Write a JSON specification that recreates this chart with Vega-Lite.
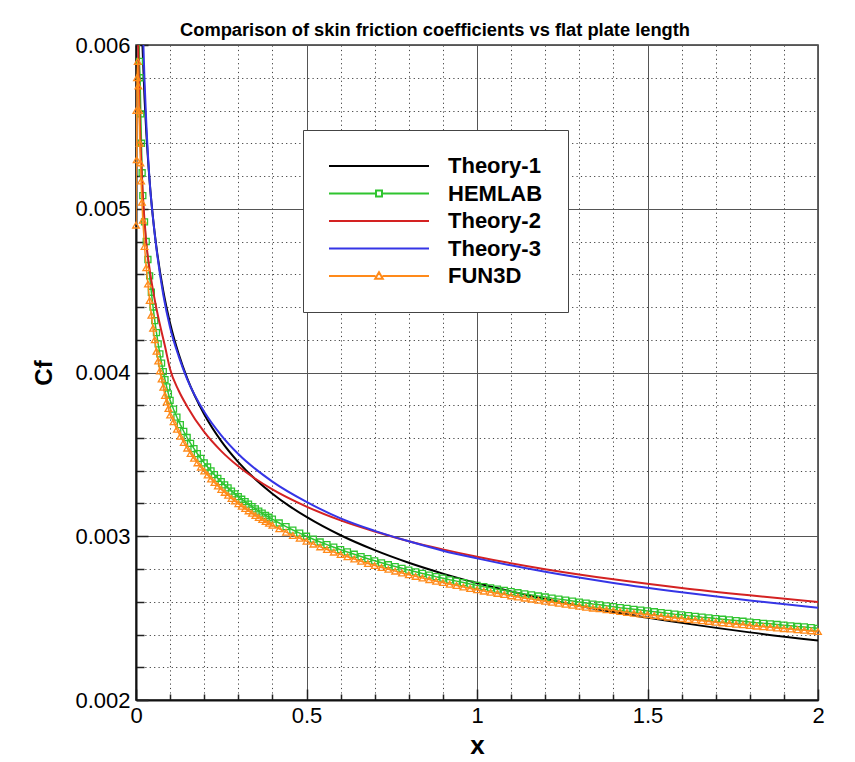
{
  "$schema": "https://vega.github.io/schema/vega-lite/v6.json",
  "autosize": {"type": "none"},
  "width": 682,
  "height": 655,
  "padding": {"left": 136, "top": 45, "right": 37, "bottom": 62},
  "background": "white",
  "config": {"font": "Liberation Sans", "view": {"stroke": "#333333", "strokeWidth": 1.5}},
  "title": {"text": "Comparison of skin friction coefficients vs flat plate length", "anchor": "middle", "dx": -42, "dy": 12, "offset": 6, "fontSize": 18.3, "fontWeight": "bold", "font": "Liberation Sans", "color": "#000000"},
  "data": {"values": [
    {"s":"Theory-1","x":0.015,"cf":0.006287},{"s":"Theory-1","x":0.019,"cf":0.005996},{"s":"Theory-1","x":0.025,"cf":0.005676},{"s":"Theory-1","x":0.03,"cf":0.005473},{"s":"Theory-1","x":0.04,"cf":0.005167},{"s":"Theory-1","x":0.05,"cf":0.004941},{"s":"Theory-1","x":0.06,"cf":0.004764},{"s":"Theory-1","x":0.08,"cf":0.004498},{"s":"Theory-1","x":0.1,"cf":0.004301},{"s":"Theory-1","x":0.125,"cf":0.004114},{"s":"Theory-1","x":0.15,"cf":0.003966},{"s":"Theory-1","x":0.2,"cf":0.003745},{"s":"Theory-1","x":0.25,"cf":0.003581},{"s":"Theory-1","x":0.3,"cf":0.003453},{"s":"Theory-1","x":0.35,"cf":0.003348},{"s":"Theory-1","x":0.4,"cf":0.00326},{"s":"Theory-1","x":0.45,"cf":0.003184},{"s":"Theory-1","x":0.5,"cf":0.003118},{"s":"Theory-1","x":0.6,"cf":0.003006},{"s":"Theory-1","x":0.7,"cf":0.002915},{"s":"Theory-1","x":0.8,"cf":0.002838},{"s":"Theory-1","x":0.9,"cf":0.002772},{"s":"Theory-1","x":1.0,"cf":0.002714},{"s":"Theory-1","x":1.2,"cf":0.002617},{"s":"Theory-1","x":1.4,"cf":0.002537},{"s":"Theory-1","x":1.6,"cf":0.002471},{"s":"Theory-1","x":1.8,"cf":0.002413},{"s":"Theory-1","x":2.0,"cf":0.002363},
    {"s":"Theory-2","x":0.005,"cf":0.006232},{"s":"Theory-2","x":0.006,"cf":0.006068},{"s":"Theory-2","x":0.008,"cf":0.005818},{"s":"Theory-2","x":0.01,"cf":0.005632},{"s":"Theory-2","x":0.015,"cf":0.005308},{"s":"Theory-2","x":0.02,"cf":0.00509},{"s":"Theory-2","x":0.03,"cf":0.004797},{"s":"Theory-2","x":0.04,"cf":0.00463},{"s":"Theory-2","x":0.05,"cf":0.0045},{"s":"Theory-2","x":0.065,"cf":0.00434},{"s":"Theory-2","x":0.085,"cf":0.00416},{"s":"Theory-2","x":0.1,"cf":0.00402},{"s":"Theory-2","x":0.125,"cf":0.00389},{"s":"Theory-2","x":0.15,"cf":0.003793},{"s":"Theory-2","x":0.2,"cf":0.003637},{"s":"Theory-2","x":0.25,"cf":0.00352},{"s":"Theory-2","x":0.3,"cf":0.003427},{"s":"Theory-2","x":0.4,"cf":0.003286},{"s":"Theory-2","x":0.5,"cf":0.003181},{"s":"Theory-2","x":0.6,"cf":0.003097},{"s":"Theory-2","x":0.7,"cf":0.003029},{"s":"Theory-2","x":0.8,"cf":0.00297},{"s":"Theory-2","x":0.9,"cf":0.00292},{"s":"Theory-2","x":1.0,"cf":0.002875},{"s":"Theory-2","x":1.2,"cf":0.002799},{"s":"Theory-2","x":1.4,"cf":0.002737},{"s":"Theory-2","x":1.6,"cf":0.002684},{"s":"Theory-2","x":1.8,"cf":0.002639},{"s":"Theory-2","x":2.0,"cf":0.002598},
    {"s":"Theory-3","x":0.018,"cf":0.006284},{"s":"Theory-3","x":0.0215,"cf":0.00601},{"s":"Theory-3","x":0.025,"cf":0.005783},{"s":"Theory-3","x":0.03,"cf":0.005532},{"s":"Theory-3","x":0.04,"cf":0.005167},{"s":"Theory-3","x":0.05,"cf":0.00494},{"s":"Theory-3","x":0.06,"cf":0.004756},{"s":"Theory-3","x":0.08,"cf":0.004475},{"s":"Theory-3","x":0.1,"cf":0.004275},{"s":"Theory-3","x":0.125,"cf":0.0041},{"s":"Theory-3","x":0.15,"cf":0.00396},{"s":"Theory-3","x":0.2,"cf":0.00376},{"s":"Theory-3","x":0.25,"cf":0.003616},{"s":"Theory-3","x":0.3,"cf":0.003502},{"s":"Theory-3","x":0.4,"cf":0.003334},{"s":"Theory-3","x":0.5,"cf":0.00321},{"s":"Theory-3","x":0.6,"cf":0.003109},{"s":"Theory-3","x":0.7,"cf":0.003033},{"s":"Theory-3","x":0.8,"cf":0.002969},{"s":"Theory-3","x":0.9,"cf":0.002912},{"s":"Theory-3","x":1.0,"cf":0.002865},{"s":"Theory-3","x":1.2,"cf":0.002783},{"s":"Theory-3","x":1.4,"cf":0.002715},{"s":"Theory-3","x":1.6,"cf":0.002658},{"s":"Theory-3","x":1.8,"cf":0.002608},{"s":"Theory-3","x":2.0,"cf":0.002564},
    {"s":"HEMLAB","x":0.006,"cf":0.0066},{"s":"HEMLAB","x":0.008,"cf":0.0062},{"s":"HEMLAB","x":0.01,"cf":0.0059},{"s":"HEMLAB","x":0.012,"cf":0.0058},{"s":"HEMLAB","x":0.014,"cf":0.00558},{"s":"HEMLAB","x":0.016,"cf":0.0054},{"s":"HEMLAB","x":0.018,"cf":0.00522},{"s":"HEMLAB","x":0.02,"cf":0.00508},{"s":"HEMLAB","x":0.025,"cf":0.00492},{"s":"HEMLAB","x":0.03,"cf":0.0048},{"s":"HEMLAB","x":0.035,"cf":0.00469},{"s":"HEMLAB","x":0.04,"cf":0.00459},{"s":"HEMLAB","x":0.045,"cf":0.00449},{"s":"HEMLAB","x":0.05,"cf":0.0044},{"s":"HEMLAB","x":0.055,"cf":0.004317},{"s":"HEMLAB","x":0.06,"cf":0.004243},{"s":"HEMLAB","x":0.065,"cf":0.004175},{"s":"HEMLAB","x":0.07,"cf":0.004114},{"s":"HEMLAB","x":0.075,"cf":0.004057},{"s":"HEMLAB","x":0.08,"cf":0.004005},{"s":"HEMLAB","x":0.085,"cf":0.003957},{"s":"HEMLAB","x":0.09,"cf":0.003912},{"s":"HEMLAB","x":0.095,"cf":0.00387},{"s":"HEMLAB","x":0.1,"cf":0.00383},
    {"s":"HEMLAB","x":0.11,"cf":0.003776},{"s":"HEMLAB","x":0.12,"cf":0.003727},{"s":"HEMLAB","x":0.13,"cf":0.003682},{"s":"HEMLAB","x":0.14,"cf":0.003641},{"s":"HEMLAB","x":0.15,"cf":0.003603},{"s":"HEMLAB","x":0.16,"cf":0.003567},{"s":"HEMLAB","x":0.17,"cf":0.003535},{"s":"HEMLAB","x":0.18,"cf":0.003504},{"s":"HEMLAB","x":0.19,"cf":0.003475},{"s":"HEMLAB","x":0.2,"cf":0.003448},{"s":"HEMLAB","x":0.21,"cf":0.003423},{"s":"HEMLAB","x":0.22,"cf":0.003399},{"s":"HEMLAB","x":0.23,"cf":0.003376},{"s":"HEMLAB","x":0.24,"cf":0.003354},{"s":"HEMLAB","x":0.25,"cf":0.003333},{"s":"HEMLAB","x":0.26,"cf":0.003314},{"s":"HEMLAB","x":0.27,"cf":0.003295},{"s":"HEMLAB","x":0.28,"cf":0.003276},{"s":"HEMLAB","x":0.29,"cf":0.003259},{"s":"HEMLAB","x":0.3,"cf":0.003242},{"s":"HEMLAB","x":0.31,"cf":0.003226},{"s":"HEMLAB","x":0.32,"cf":0.003211},{"s":"HEMLAB","x":0.33,"cf":0.003196},{"s":"HEMLAB","x":0.34,"cf":0.003181},{"s":"HEMLAB","x":0.35,"cf":0.003167},{"s":"HEMLAB","x":0.36,"cf":0.003154},{"s":"HEMLAB","x":0.37,"cf":0.003141},{"s":"HEMLAB","x":0.38,"cf":0.003128},{"s":"HEMLAB","x":0.39,"cf":0.003116},
    {"s":"HEMLAB","x":0.4,"cf":0.003104},{"s":"HEMLAB","x":0.42,"cf":0.003081},{"s":"HEMLAB","x":0.44,"cf":0.003059},{"s":"HEMLAB","x":0.46,"cf":0.003038},{"s":"HEMLAB","x":0.48,"cf":0.003019},{"s":"HEMLAB","x":0.5,"cf":0.003},{"s":"HEMLAB","x":0.52,"cf":0.002982},{"s":"HEMLAB","x":0.54,"cf":0.002965},{"s":"HEMLAB","x":0.56,"cf":0.002949},{"s":"HEMLAB","x":0.58,"cf":0.002933},{"s":"HEMLAB","x":0.6,"cf":0.002918},{"s":"HEMLAB","x":0.62,"cf":0.002904},{"s":"HEMLAB","x":0.64,"cf":0.00289},{"s":"HEMLAB","x":0.66,"cf":0.002876},{"s":"HEMLAB","x":0.68,"cf":0.002863},{"s":"HEMLAB","x":0.7,"cf":0.00285},{"s":"HEMLAB","x":0.72,"cf":0.002838},{"s":"HEMLAB","x":0.74,"cf":0.002826},{"s":"HEMLAB","x":0.76,"cf":0.002815},{"s":"HEMLAB","x":0.78,"cf":0.002804},{"s":"HEMLAB","x":0.8,"cf":0.002793},{"s":"HEMLAB","x":0.82,"cf":0.002783},{"s":"HEMLAB","x":0.84,"cf":0.002773},{"s":"HEMLAB","x":0.86,"cf":0.002763},{"s":"HEMLAB","x":0.88,"cf":0.002753},{"s":"HEMLAB","x":0.9,"cf":0.002744},{"s":"HEMLAB","x":0.92,"cf":0.002734},{"s":"HEMLAB","x":0.94,"cf":0.002726},{"s":"HEMLAB","x":0.96,"cf":0.002717},{"s":"HEMLAB","x":0.98,"cf":0.002708},{"s":"HEMLAB","x":1.0,"cf":0.0027},
    {"s":"HEMLAB","x":1.02,"cf":0.002692},{"s":"HEMLAB","x":1.04,"cf":0.002685},{"s":"HEMLAB","x":1.06,"cf":0.002677},{"s":"HEMLAB","x":1.08,"cf":0.00267},{"s":"HEMLAB","x":1.1,"cf":0.002662},{"s":"HEMLAB","x":1.12,"cf":0.002655},{"s":"HEMLAB","x":1.14,"cf":0.002648},{"s":"HEMLAB","x":1.16,"cf":0.002642},{"s":"HEMLAB","x":1.18,"cf":0.002635},{"s":"HEMLAB","x":1.2,"cf":0.002629},{"s":"HEMLAB","x":1.22,"cf":0.002622},{"s":"HEMLAB","x":1.24,"cf":0.002616},{"s":"HEMLAB","x":1.26,"cf":0.00261},{"s":"HEMLAB","x":1.28,"cf":0.002604},{"s":"HEMLAB","x":1.3,"cf":0.002598},{"s":"HEMLAB","x":1.32,"cf":0.002592},{"s":"HEMLAB","x":1.34,"cf":0.002586},{"s":"HEMLAB","x":1.36,"cf":0.002581},{"s":"HEMLAB","x":1.38,"cf":0.002575},{"s":"HEMLAB","x":1.4,"cf":0.00257},{"s":"HEMLAB","x":1.42,"cf":0.002564},{"s":"HEMLAB","x":1.44,"cf":0.002559},{"s":"HEMLAB","x":1.46,"cf":0.002554},{"s":"HEMLAB","x":1.48,"cf":0.002549},{"s":"HEMLAB","x":1.5,"cf":0.002544},{"s":"HEMLAB","x":1.52,"cf":0.002539},{"s":"HEMLAB","x":1.54,"cf":0.002534},{"s":"HEMLAB","x":1.56,"cf":0.002529},{"s":"HEMLAB","x":1.58,"cf":0.002524},{"s":"HEMLAB","x":1.6,"cf":0.00252},{"s":"HEMLAB","x":1.62,"cf":0.002515},{"s":"HEMLAB","x":1.64,"cf":0.002511},{"s":"HEMLAB","x":1.66,"cf":0.002506},{"s":"HEMLAB","x":1.68,"cf":0.002502},{"s":"HEMLAB","x":1.7,"cf":0.002497},{"s":"HEMLAB","x":1.72,"cf":0.002493},{"s":"HEMLAB","x":1.74,"cf":0.002489},{"s":"HEMLAB","x":1.76,"cf":0.002485},{"s":"HEMLAB","x":1.78,"cf":0.002481},{"s":"HEMLAB","x":1.8,"cf":0.002476},{"s":"HEMLAB","x":1.82,"cf":0.002472},{"s":"HEMLAB","x":1.84,"cf":0.002468},{"s":"HEMLAB","x":1.86,"cf":0.002465},{"s":"HEMLAB","x":1.88,"cf":0.002461},{"s":"HEMLAB","x":1.9,"cf":0.002457},{"s":"HEMLAB","x":1.92,"cf":0.002453},{"s":"HEMLAB","x":1.94,"cf":0.002449},{"s":"HEMLAB","x":1.96,"cf":0.002446},{"s":"HEMLAB","x":1.98,"cf":0.002442},{"s":"HEMLAB","x":2.0,"cf":0.002438},
    {"s":"FUN3D","x":0.0,"cf":0.0049},{"s":"FUN3D","x":0.001,"cf":0.0056},{"s":"FUN3D","x":0.002,"cf":0.0053},{"s":"FUN3D","x":0.003,"cf":0.0058},{"s":"FUN3D","x":0.005,"cf":0.0059},{"s":"FUN3D","x":0.007,"cf":0.00575},{"s":"FUN3D","x":0.009,"cf":0.0056},{"s":"FUN3D","x":0.011,"cf":0.0054},{"s":"FUN3D","x":0.013,"cf":0.00528},{"s":"FUN3D","x":0.015,"cf":0.00517},{"s":"FUN3D","x":0.0175,"cf":0.00504},{"s":"FUN3D","x":0.02,"cf":0.00493},{"s":"FUN3D","x":0.025,"cf":0.00477},{"s":"FUN3D","x":0.03,"cf":0.00464},{"s":"FUN3D","x":0.035,"cf":0.00454},{"s":"FUN3D","x":0.04,"cf":0.00444},{"s":"FUN3D","x":0.045,"cf":0.00435},{"s":"FUN3D","x":0.05,"cf":0.00427},{"s":"FUN3D","x":0.055,"cf":0.0042},{"s":"FUN3D","x":0.06,"cf":0.00413},{"s":"FUN3D","x":0.065,"cf":0.00407},{"s":"FUN3D","x":0.07,"cf":0.00401},{"s":"FUN3D","x":0.075,"cf":0.00396},{"s":"FUN3D","x":0.08,"cf":0.00391},{"s":"FUN3D","x":0.085,"cf":0.00386},{"s":"FUN3D","x":0.09,"cf":0.00382},{"s":"FUN3D","x":0.095,"cf":0.00378},{"s":"FUN3D","x":0.1,"cf":0.00374},
    {"s":"FUN3D","x":0.11,"cf":0.003699},{"s":"FUN3D","x":0.12,"cf":0.003653},{"s":"FUN3D","x":0.13,"cf":0.003611},{"s":"FUN3D","x":0.14,"cf":0.003573},{"s":"FUN3D","x":0.15,"cf":0.003538},{"s":"FUN3D","x":0.16,"cf":0.003505},{"s":"FUN3D","x":0.17,"cf":0.003476},{"s":"FUN3D","x":0.18,"cf":0.003448},{"s":"FUN3D","x":0.19,"cf":0.003422},{"s":"FUN3D","x":0.2,"cf":0.003398},{"s":"FUN3D","x":0.21,"cf":0.003374},{"s":"FUN3D","x":0.22,"cf":0.00335},{"s":"FUN3D","x":0.23,"cf":0.003328},{"s":"FUN3D","x":0.24,"cf":0.003307},{"s":"FUN3D","x":0.25,"cf":0.003286},{"s":"FUN3D","x":0.26,"cf":0.003268},{"s":"FUN3D","x":0.27,"cf":0.00325},{"s":"FUN3D","x":0.28,"cf":0.003231},{"s":"FUN3D","x":0.29,"cf":0.003215},{"s":"FUN3D","x":0.3,"cf":0.003199},{"s":"FUN3D","x":0.31,"cf":0.003183},{"s":"FUN3D","x":0.32,"cf":0.003169},{"s":"FUN3D","x":0.33,"cf":0.003155},{"s":"FUN3D","x":0.34,"cf":0.00314},{"s":"FUN3D","x":0.35,"cf":0.003127},{"s":"FUN3D","x":0.36,"cf":0.003115},{"s":"FUN3D","x":0.37,"cf":0.003102},{"s":"FUN3D","x":0.38,"cf":0.00309},{"s":"FUN3D","x":0.39,"cf":0.003079},
    {"s":"FUN3D","x":0.4,"cf":0.003067},{"s":"FUN3D","x":0.42,"cf":0.003046},{"s":"FUN3D","x":0.44,"cf":0.003025},{"s":"FUN3D","x":0.46,"cf":0.003005},{"s":"FUN3D","x":0.48,"cf":0.002988},{"s":"FUN3D","x":0.5,"cf":0.00297},{"s":"FUN3D","x":0.52,"cf":0.002952},{"s":"FUN3D","x":0.54,"cf":0.002935},{"s":"FUN3D","x":0.56,"cf":0.002919},{"s":"FUN3D","x":0.58,"cf":0.002903},{"s":"FUN3D","x":0.6,"cf":0.002889},{"s":"FUN3D","x":0.62,"cf":0.002875},{"s":"FUN3D","x":0.64,"cf":0.002861},{"s":"FUN3D","x":0.66,"cf":0.002847},{"s":"FUN3D","x":0.68,"cf":0.002834},{"s":"FUN3D","x":0.7,"cf":0.002821},{"s":"FUN3D","x":0.72,"cf":0.002809},{"s":"FUN3D","x":0.74,"cf":0.002798},{"s":"FUN3D","x":0.76,"cf":0.002787},{"s":"FUN3D","x":0.78,"cf":0.002776},{"s":"FUN3D","x":0.8,"cf":0.002765},{"s":"FUN3D","x":0.82,"cf":0.002755},{"s":"FUN3D","x":0.84,"cf":0.002745},{"s":"FUN3D","x":0.86,"cf":0.002735},{"s":"FUN3D","x":0.88,"cf":0.002725},{"s":"FUN3D","x":0.9,"cf":0.002717},{"s":"FUN3D","x":0.92,"cf":0.002707},{"s":"FUN3D","x":0.94,"cf":0.002699},{"s":"FUN3D","x":0.96,"cf":0.00269},{"s":"FUN3D","x":0.98,"cf":0.002681},{"s":"FUN3D","x":1.0,"cf":0.002673},
    {"s":"FUN3D","x":1.02,"cf":0.002665},{"s":"FUN3D","x":1.04,"cf":0.002658},{"s":"FUN3D","x":1.06,"cf":0.002651},{"s":"FUN3D","x":1.08,"cf":0.002644},{"s":"FUN3D","x":1.1,"cf":0.002636},{"s":"FUN3D","x":1.12,"cf":0.002629},{"s":"FUN3D","x":1.14,"cf":0.002622},{"s":"FUN3D","x":1.16,"cf":0.002616},{"s":"FUN3D","x":1.18,"cf":0.002609},{"s":"FUN3D","x":1.2,"cf":0.002603},{"s":"FUN3D","x":1.22,"cf":0.002597},{"s":"FUN3D","x":1.24,"cf":0.002591},{"s":"FUN3D","x":1.26,"cf":0.002585},{"s":"FUN3D","x":1.28,"cf":0.002579},{"s":"FUN3D","x":1.3,"cf":0.002573},{"s":"FUN3D","x":1.32,"cf":0.002567},{"s":"FUN3D","x":1.34,"cf":0.002561},{"s":"FUN3D","x":1.36,"cf":0.002557},{"s":"FUN3D","x":1.38,"cf":0.002551},{"s":"FUN3D","x":1.4,"cf":0.002546},{"s":"FUN3D","x":1.42,"cf":0.00254},{"s":"FUN3D","x":1.44,"cf":0.002535},{"s":"FUN3D","x":1.46,"cf":0.00253},{"s":"FUN3D","x":1.48,"cf":0.002525},{"s":"FUN3D","x":1.5,"cf":0.002521},{"s":"FUN3D","x":1.52,"cf":0.002516},{"s":"FUN3D","x":1.54,"cf":0.002511},{"s":"FUN3D","x":1.56,"cf":0.002506},{"s":"FUN3D","x":1.58,"cf":0.002501},{"s":"FUN3D","x":1.6,"cf":0.002497},{"s":"FUN3D","x":1.62,"cf":0.002492},{"s":"FUN3D","x":1.64,"cf":0.002489},{"s":"FUN3D","x":1.66,"cf":0.002484},{"s":"FUN3D","x":1.68,"cf":0.00248},{"s":"FUN3D","x":1.7,"cf":0.002475},{"s":"FUN3D","x":1.72,"cf":0.002471},{"s":"FUN3D","x":1.74,"cf":0.002467},{"s":"FUN3D","x":1.76,"cf":0.002463},{"s":"FUN3D","x":1.78,"cf":0.00246},{"s":"FUN3D","x":1.8,"cf":0.002455},{"s":"FUN3D","x":1.82,"cf":0.002451},{"s":"FUN3D","x":1.84,"cf":0.002447},{"s":"FUN3D","x":1.86,"cf":0.002444},{"s":"FUN3D","x":1.88,"cf":0.00244},{"s":"FUN3D","x":1.9,"cf":0.002436},{"s":"FUN3D","x":1.92,"cf":0.002433},{"s":"FUN3D","x":1.94,"cf":0.002429},{"s":"FUN3D","x":1.96,"cf":0.002426},{"s":"FUN3D","x":1.98,"cf":0.002422},{"s":"FUN3D","x":2.0,"cf":0.002418}
  ]},
  "encoding": {
    "x": {"field": "x", "type": "quantitative",
      "scale": {"domain": [0, 2], "nice": false, "zero": false},
      "axis": {
        "values": [0,0.1,0.2,0.3,0.4,0.5,0.6,0.7,0.8,0.9,1,1.1,1.2,1.3,1.4,1.5,1.6,1.7,1.8,1.9,2],
        "format": "~g",
        "labelExpr": "abs(datum.value*2-round(datum.value*2))<0.001 ? datum.label : ''",
        "grid": true,
        "gridColor": {"condition": {"test": "abs(datum.value*2-round(datum.value*2))<0.001", "value": "#555555"}, "value": "#444444"},
        "gridDash": {"condition": {"test": "abs(datum.value*2-round(datum.value*2))<0.001", "value": []}, "value": [1.2, 3.2]},
        "gridWidth": 1,
        "gridOpacity": 1,
        "tickSize": {"condition": {"test": "abs(datum.value*2-round(datum.value*2))<0.001", "value": -11}, "value": -6},
        "tickColor": "#222222",
        "tickWidth": 1.5,
        "domainColor": "#111111",
        "domainWidth": 2,
        "labelFont": "Liberation Sans",
        "labelFontSize": 22,
        "labelColor": "#000000",
        "labelPadding": 16,
        "labelFlush": false,
        "labelOverlap": false,
        "title": "x",
        "titleFont": "Liberation Sans",
        "titleFontSize": 26,
        "titleFontWeight": "bold",
        "titleColor": "#000000",
        "titlePadding": 1
      }},
    "y": {"field": "cf", "type": "quantitative",
      "scale": {"domain": [0.002, 0.006], "nice": false, "zero": false},
      "axis": {
        "values": [0.002,0.0022,0.0024,0.0026,0.0028,0.003,0.0032,0.0034,0.0036,0.0038,0.004,0.0042,0.0044,0.0046,0.0048,0.005,0.0052,0.0054,0.0056,0.0058,0.006],
        "format": "~g",
        "labelExpr": "abs(datum.value*1000-round(datum.value*1000))<0.001 ? datum.label : ''",
        "grid": true,
        "gridColor": {"condition": {"test": "abs(datum.value*1000-round(datum.value*1000))<0.001", "value": "#555555"}, "value": "#444444"},
        "gridDash": {"condition": {"test": "abs(datum.value*1000-round(datum.value*1000))<0.001", "value": []}, "value": [1.2, 3.2]},
        "gridWidth": 1,
        "gridOpacity": 1,
        "tickSize": {"condition": {"test": "abs(datum.value*1000-round(datum.value*1000))<0.001", "value": -12}, "value": -8},
        "tickColor": "#222222",
        "tickWidth": 1.5,
        "domainColor": "#111111",
        "domainWidth": 2,
        "labelFont": "Liberation Sans",
        "labelFontSize": 22,
        "labelColor": "#000000",
        "labelPadding": 18,
        "labelFlush": false,
        "labelOverlap": false,
        "title": "Cf",
        "titleFont": "Liberation Sans",
        "titleFontSize": 24,
        "titleFontWeight": "bold",
        "titleColor": "#000000",
        "titlePadding": 18
      }},
    "color": {"field": "s", "type": "nominal",
      "scale": {"domain": ["Theory-1", "HEMLAB", "Theory-2", "Theory-3", "FUN3D"], "range": ["#000000", "#2fc42f", "#d42222", "#3535e6", "#ff8a1a"]},
      "legend": {
        "orient": "none", "legendX": 167, "legendY": 85,
        "title": null,
        "padding": 25,
        "fillColor": "#ffffff",
        "strokeColor": "#444444",
        "symbolSize": 400,
        "symbolOffset": 40,
        "symbolStrokeWidth": 2,
        "labelOffset": 58,
        "rowPadding": 5.5,
        "labelFont": "Liberation Sans",
        "labelFontSize": 22,
        "labelFontWeight": "bold",
        "labelColor": "#000000",
        "encode": {"symbols": {"update": {
          "shape": {"signal": "datum.value === 'HEMLAB' ? 'M-5,0H-0.3M0.3,0H5M-0.3,-0.3H0.3V0.3H-0.3Z' : datum.value === 'FUN3D' ? 'M-5,0H-0.35M0.35,0H5M0,-0.38L0.38,0.28L-0.38,0.28Z' : 'M-5,0H5'"},
          "fill": {"value": "transparent"},
          "strokeWidth": {"value": 2}
        }}}
      }}
  },
  "layer": [
    {"transform": [{"filter": "datum.s === 'Theory-1'"}], "mark": {"type": "line", "strokeWidth": 2, "interpolate": "monotone", "clip": true}},
    {"transform": [{"filter": "datum.s === 'HEMLAB'"}], "mark": {"type": "line", "strokeWidth": 1.5, "clip": true}},
    {"transform": [{"filter": "datum.s === 'HEMLAB'"}], "mark": {"type": "point", "shape": "square", "filled": false, "size": 36, "strokeWidth": 1.3, "opacity": 1, "clip": true}},
    {"transform": [{"filter": "datum.s === 'Theory-2'"}], "mark": {"type": "line", "strokeWidth": 2, "interpolate": "monotone", "clip": true}},
    {"transform": [{"filter": "datum.s === 'Theory-3'"}], "mark": {"type": "line", "strokeWidth": 2, "interpolate": "monotone", "clip": true}},
    {"transform": [{"filter": "datum.s === 'FUN3D'"}], "mark": {"type": "line", "strokeWidth": 1.5, "clip": true}},
    {"transform": [{"filter": "datum.s === 'FUN3D'"}], "mark": {"type": "point", "shape": "triangle-up", "filled": false, "size": 44, "strokeWidth": 1.3, "opacity": 1, "clip": false}}
  ]
}
